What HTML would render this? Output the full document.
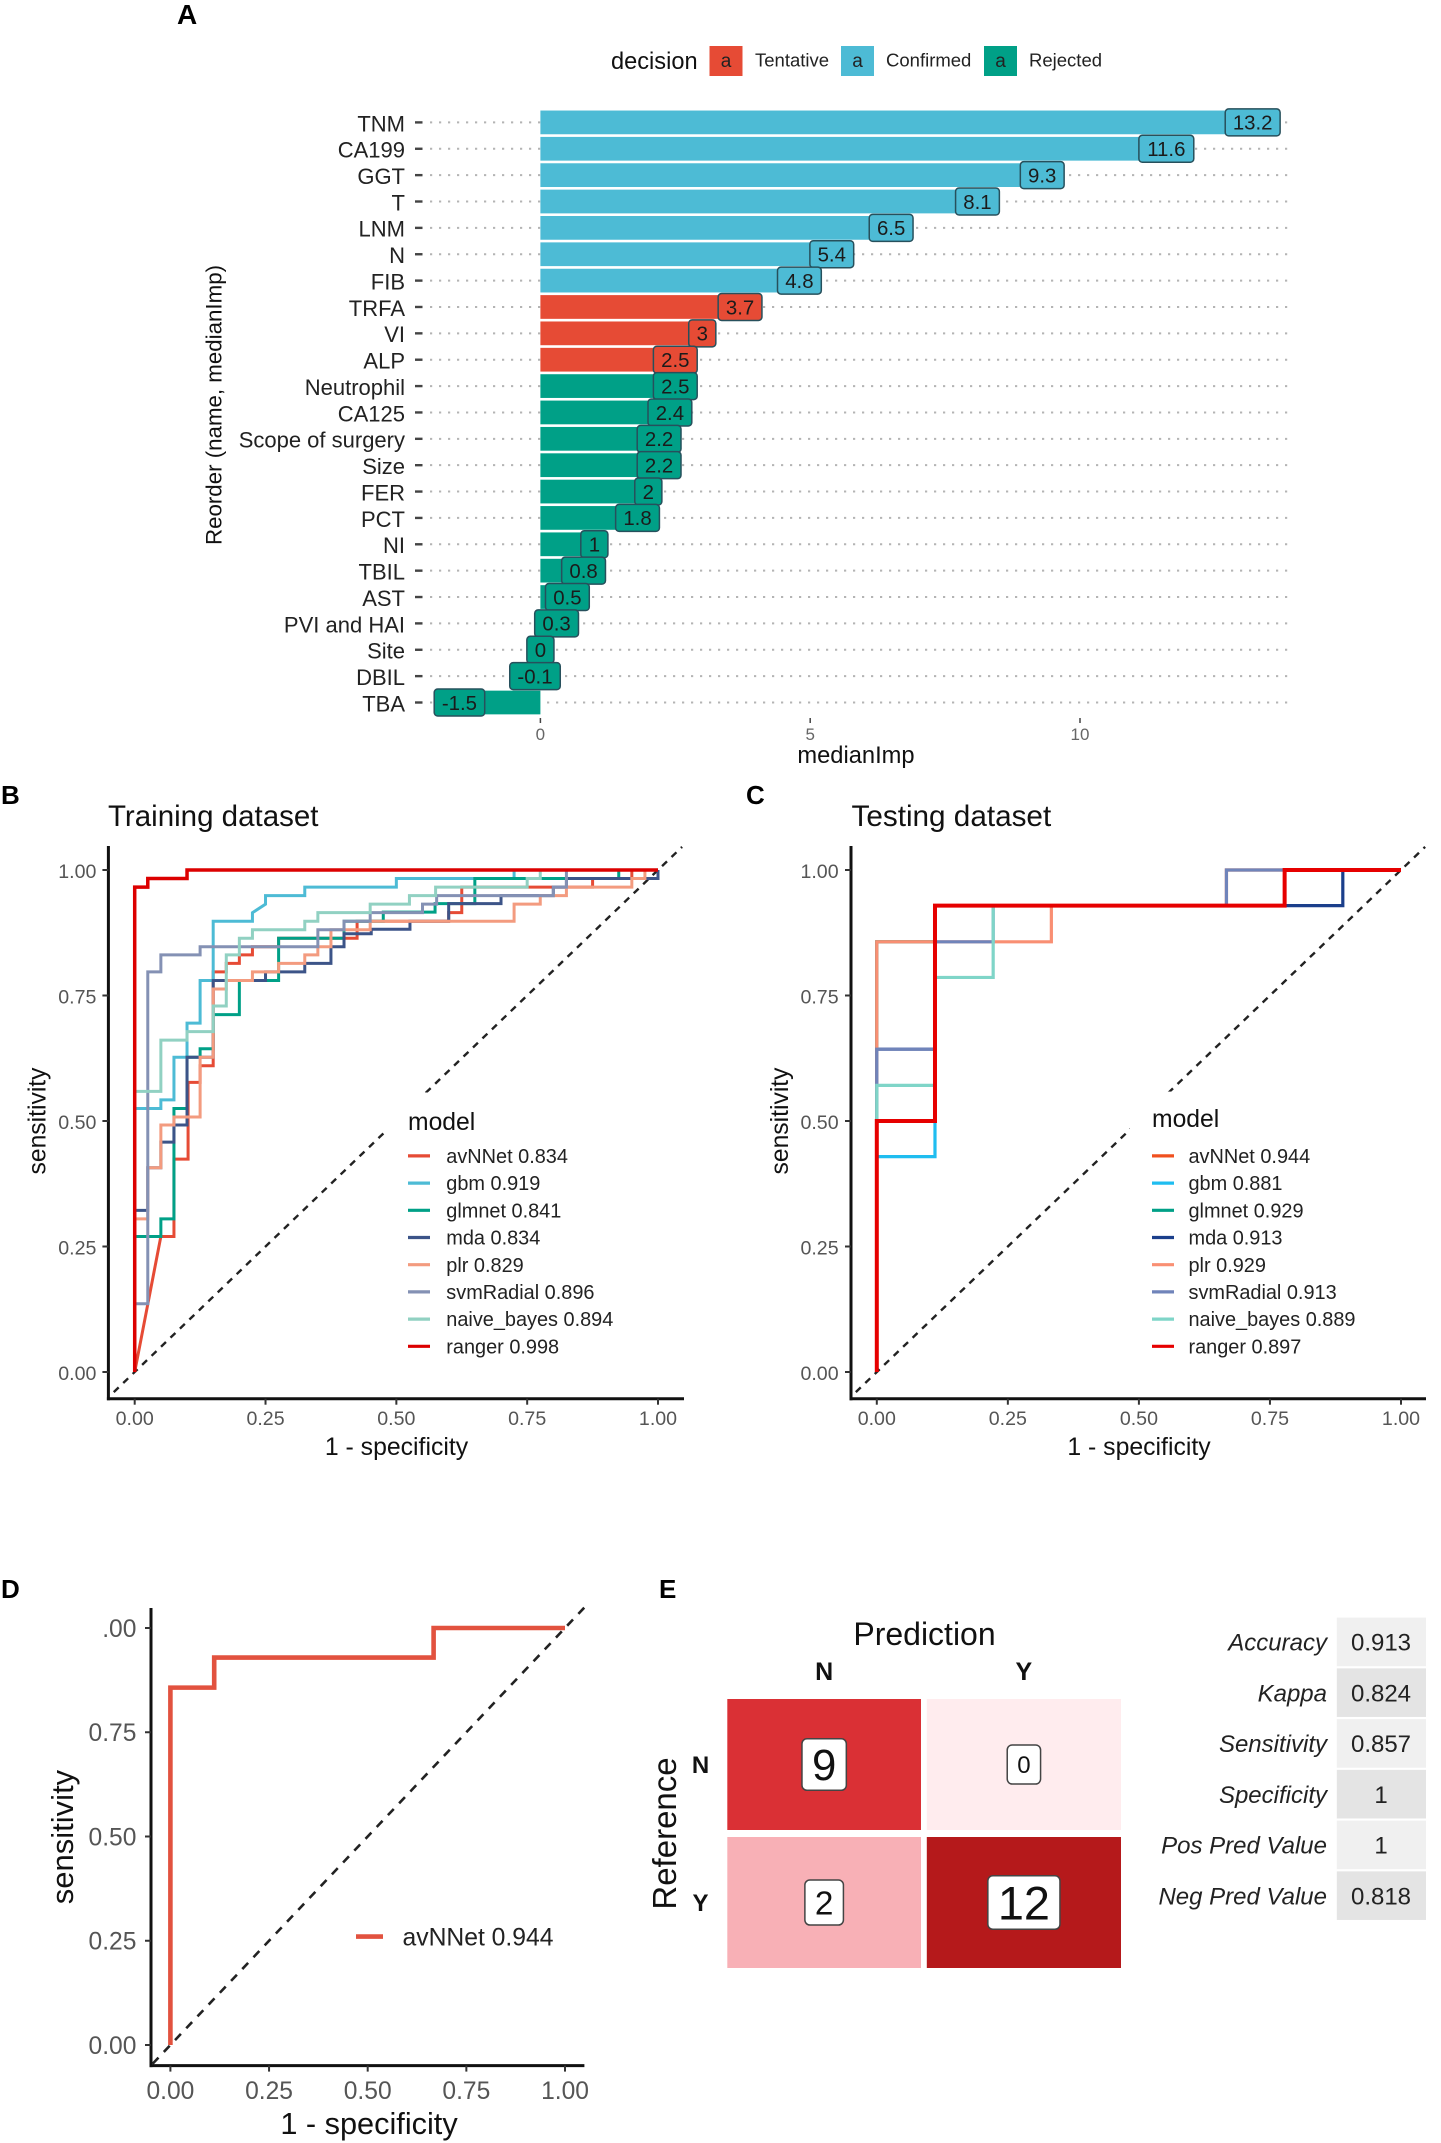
<!DOCTYPE html>
<html lang="en">
<head>
<meta charset="utf-8">
<title>Feature importance and ROC panels</title>
<style>
  html, body { margin: 0; padding: 0; background: #fff; }
  svg { display: block; font-family: "Liberation Sans", sans-serif; }
  .panel-letter { font-size: 26px; font-weight: bold; fill: #000; }
</style>
</head>
<body>
<svg id="figure" xmlns="http://www.w3.org/2000/svg" width="1441" height="2143" viewBox="0 0 1441 2143">
  <rect x="0" y="0" width="1441" height="2143" fill="#fff"/>

  <text class="panel-letter" x="177" y="24" style="font-size:28px">A</text>
  <text class="panel-letter" x="1" y="804">B</text>
  <text class="panel-letter" x="746" y="804">C</text>
  <text class="panel-letter" x="1" y="1598">D</text>
  <text class="panel-letter" x="659" y="1598">E</text>

  <g id="panel-a">
    <text x="611" y="69" font-size="23.6" fill="#111">decision</text>
    <text transform="translate(221.5,405) rotate(-90)" text-anchor="middle" font-size="22.3" fill="#111">Reorder (name, medianImp)</text>
    <text x="856" y="763" text-anchor="middle" font-size="23.7" fill="#111">medianImp</text>
  </g>

  <g id="panel-b">
    <text x="108" y="826" font-size="29.5" fill="#111">Training dataset</text>
    <text transform="translate(45.7,1121) rotate(-90)" text-anchor="middle" font-size="24.7" fill="#111">sensitivity</text>
    <text x="396.5" y="1455" text-anchor="middle" font-size="24.8" fill="#111">1 - specificity</text>
  </g>

  <g id="panel-c">
    <text x="851.5" y="826" font-size="29.7" fill="#111">Testing dataset</text>
    <text transform="translate(788.2,1121) rotate(-90)" text-anchor="middle" font-size="24.7" fill="#111">sensitivity</text>
    <text x="1139" y="1455" text-anchor="middle" font-size="24.8" fill="#111">1 - specificity</text>
  </g>

  <g id="panel-d">
    <text transform="translate(73,1837) rotate(-90)" text-anchor="middle" font-size="31" fill="#111">sensitivity</text>
    <text x="369" y="2134" text-anchor="middle" font-size="30.7" fill="#111">1 - specificity</text>
  </g>

  <g id="panel-e">
    <text x="924.5" y="1645" text-anchor="middle" font-size="32" fill="#111">Prediction</text>
    <text transform="translate(676,1833.5) rotate(-90)" text-anchor="middle" font-size="33" fill="#111">Reference</text>
  </g>
</svg>

<script>
/* ---------- Panel A data ---------- */
const importanceNames = ["TNM","CA199","GGT","T","LNM","N","FIB","TRFA","VI","ALP","Neutrophil","CA125","Scope of surgery","Size","FER","PCT","NI","TBIL","AST","PVI and HAI","Site","DBIL","TBA"];
const importanceValues = [13.2,11.6,9.3,8.1,6.5,5.4,4.8,3.7,3,2.5,2.5,2.4,2.2,2.2,2,1.8,1,0.8,0.5,0.3,0,-0.1,-1.5];
const importanceDecisions = ["Confirmed","Confirmed","Confirmed","Confirmed","Confirmed","Confirmed","Confirmed","Tentative","Tentative","Tentative","Rejected","Rejected","Rejected","Rejected","Rejected","Rejected","Rejected","Rejected","Rejected","Rejected","Rejected","Rejected","Rejected"];
const importanceTicks = [0,5,10];
const decisionLevels = ["Tentative","Confirmed","Rejected"];

/* ---------- ROC shared ---------- */
const rocTicks = [0,0.25,0.5,0.75,1];
const rocTickLabels = ["0.00","0.25","0.50","0.75","1.00"];
const rocTickLabelsD = ["0.00","0.25","0.50","0.75",".00"];
const modelNames = ["avNNet","gbm","glmnet","mda","plr","svmRadial","naive_bayes","ranger"];
const trainAuc = ["0.834","0.919","0.841","0.834","0.829","0.896","0.894","0.998"];
const testAuc = ["0.944","0.881","0.929","0.913","0.929","0.913","0.889","0.897"];

/* ---------- Panel B data: training curves ---------- */
const trainFprAvNNet = [0,0.05,0.075,0.075,0.102,0.102,0.125,0.125,0.15,0.15,0.175,0.175,0.2,0.2,0.225,0.225,0.275,0.275,0.425,0.425,0.6,0.6,0.625,0.625,0.875,0.875,0.95,0.95,1];
const trainTprAvNNet = [0,0.27,0.27,0.424,0.424,0.577,0.577,0.61,0.61,0.797,0.797,0.814,0.814,0.831,0.831,0.847,0.847,0.864,0.864,0.898,0.898,0.915,0.915,0.966,0.966,0.983,0.983,1,1];
const trainFprGbm = [0,0,0.05,0.05,0.075,0.075,0.1,0.1,0.125,0.125,0.15,0.15,0.225,0.225,0.25,0.25,0.325,0.325,0.5,0.5,0.725,0.725,1];
const trainTprGbm = [0,0.525,0.525,0.542,0.542,0.627,0.627,0.695,0.695,0.78,0.78,0.898,0.898,0.915,0.932,0.949,0.949,0.966,0.966,0.983,0.983,1,1];
const trainFprGlmnet = [0,0,0.05,0.05,0.075,0.075,0.1,0.1,0.125,0.125,0.15,0.15,0.2,0.2,0.275,0.275,0.4,0.4,0.475,0.475,0.574,0.574,0.65,0.65,0.925,0.925,1];
const trainTprGlmnet = [0,0.27,0.27,0.305,0.305,0.525,0.525,0.627,0.627,0.644,0.644,0.712,0.712,0.78,0.78,0.864,0.864,0.898,0.898,0.916,0.916,0.933,0.933,0.983,0.983,1,1];
const trainFprMda = [0,0,0.025,0.025,0.05,0.05,0.075,0.075,0.1,0.1,0.15,0.15,0.25,0.25,0.325,0.325,0.375,0.375,0.4,0.4,0.452,0.452,0.526,0.526,0.6,0.6,0.7,0.7,0.8,0.8,0.825,0.825,1,1];
const trainTprMda = [0,0.322,0.322,0.407,0.407,0.458,0.458,0.492,0.492,0.627,0.627,0.78,0.78,0.797,0.797,0.814,0.814,0.847,0.847,0.873,0.873,0.882,0.882,0.898,0.898,0.933,0.933,0.949,0.949,0.966,0.966,0.983,0.983,1];
const trainFprPlr = [0,0,0.025,0.025,0.05,0.05,0.075,0.075,0.125,0.125,0.15,0.15,0.175,0.175,0.225,0.225,0.275,0.275,0.325,0.325,0.35,0.35,0.375,0.375,0.45,0.45,0.725,0.725,0.775,0.775,0.825,0.825,0.95,0.95,0.975,0.975,1];
const trainTprPlr = [0,0.305,0.305,0.407,0.407,0.492,0.492,0.508,0.508,0.627,0.627,0.763,0.763,0.78,0.78,0.797,0.797,0.814,0.814,0.831,0.831,0.847,0.847,0.881,0.881,0.898,0.898,0.932,0.932,0.949,0.949,0.966,0.966,0.983,0.983,1,1];
const trainFprSvm = [0,0,0.025,0.025,0.05,0.05,0.125,0.125,0.35,0.35,0.4,0.4,0.45,0.45,0.55,0.55,0.577,0.577,0.8,0.8,0.825,0.825,1];
const trainTprSvm = [0,0.136,0.136,0.797,0.797,0.831,0.831,0.847,0.847,0.881,0.881,0.898,0.898,0.915,0.915,0.932,0.932,0.949,0.949,0.966,0.966,1,1];
const trainFprNb = [0,0,0.05,0.05,0.1,0.1,0.15,0.15,0.175,0.175,0.2,0.2,0.225,0.225,0.325,0.325,0.35,0.35,0.45,0.45,0.525,0.525,0.575,0.575,0.75,0.75,0.775,0.775,1];
const trainTprNb = [0,0.559,0.559,0.661,0.661,0.678,0.678,0.729,0.729,0.831,0.831,0.864,0.864,0.881,0.881,0.898,0.898,0.915,0.915,0.932,0.932,0.949,0.949,0.966,0.966,0.983,0.983,1,1];
const trainFprRanger = [0,0,0.025,0.025,0.1,0.1,1];
const trainTprRanger = [0,0.966,0.966,0.983,0.983,1,1];

/* ---------- Panel C data: testing curves ---------- */
const testFprAvNNet = [0,0,0.111,0.111,0.667,0.667,1];
const testTprAvNNet = [0,0.857,0.857,0.929,0.929,1,1];
const testFprGbm = [0,0,0.111,0.111,0.778,0.778,1];
const testTprGbm = [0,0.429,0.429,0.929,0.929,1,1];
const testFprGlmnet = [0,0,0.111,0.111,0.778,0.778,1];
const testTprGlmnet = [0,0.857,0.857,0.929,0.929,1,1];
const testFprMda = [0,0,0.111,0.111,0.889,0.889,1];
const testTprMda = [0,0.643,0.643,0.929,0.929,1,1];
const testFprPlr = [0,0,0.333,0.333,0.778,0.778,1];
const testTprPlr = [0,0.857,0.857,0.929,0.929,1,1];
const testFprSvm = [0,0,0.111,0.111,0.222,0.222,0.667,0.667,1];
const testTprSvm = [0,0.643,0.643,0.857,0.857,0.929,0.929,1,1];
const testFprNb = [0,0,0.111,0.111,0.222,0.222,0.778,0.778,1];
const testTprNb = [0,0.571,0.571,0.786,0.786,0.929,0.929,1,1];
const testFprRanger = [0,0,0.111,0.111,0.778,0.778,1];
const testTprRanger = [0,0.5,0.5,0.929,0.929,1,1];

/* ---------- Panel D data ---------- */
const bestFpr = [0,0,0.111,0.111,0.667,0.667,1];
const bestTpr = [0,0.857,0.857,0.929,0.929,1,1];
const bestModelLabel = "avNNet 0.944";

/* ---------- Panel E data ---------- */
const confusionClasses = ["N","Y"];
const confusionRowN = [9,0];
const confusionRowY = [2,12];
const metricNames = ["Accuracy","Kappa","Sensitivity","Specificity","Pos Pred Value","Neg Pred Value"];
const metricValues = ["0.913","0.824","0.857","1","1","0.818"];

/* ---------- helpers ---------- */
const SVGNS = "http://www.w3.org/2000/svg";
function make(tag, attrs, parent) {
  const node = document.createElementNS(SVGNS, tag);
  for (const k in attrs) node.setAttribute(k, attrs[k]);
  parent.appendChild(node);
  return node;
}
function scale(d0, d1, r0, r1) {
  return function (v) { return r0 + (v - d0) * (r1 - r0) / (d1 - d0); };
}
function centeredText(x, yc, str, size, fill, anchor, parent, style) {
  const t = make("text", { x: x, y: yc + 0.358 * size, "font-size": size, fill: fill, "text-anchor": anchor }, parent);
  if (style) t.setAttribute("font-style", style);
  t.textContent = str;
  return t;
}
const palette = { Tentative: "#E64B35", Confirmed: "#4DBBD5", Rejected: "#00A087" };

/* ---------- Panel A ---------- */
(function () {
  const g = document.getElementById("panel-a");
  const x = scale(0, 10, 540.4, 1080);
  const y = scale(0, importanceNames.length - 1, 122.4, 702.5);
  const rowH = y(1) - y(0);

  const swatchLefts = [709.5, 841, 984];
  const labelLefts = [755, 886, 1029];
  decisionLevels.forEach(function (lvl, i) {
    const sw = make("rect", { x: swatchLefts[i], y: 46, width: 33, height: 30, fill: palette[lvl] }, g);
    
    
    const a = centeredText(swatchLefts[i] + 16.5, 60, "a", 19, "#222", "middle", g);
    
    
    const lab = centeredText(labelLefts[i], 60, lvl, 18.5, "#222", "start", g);
    
    
  });

  importanceNames.forEach(function (name, i) {
    const grid = make("line", { x1: 430, x2: 1292, y1: y(i), y2: y(i), stroke: "#b4b4b4", "stroke-width": 2, "stroke-dasharray": "2.2 6.8" }, g);
    
    
    const tick = make("line", { x1: 415, x2: 422.5, y1: y(i), y2: y(i), stroke: "#444", "stroke-width": 2.4 }, g);
    
    
    const lab = centeredText(405, y(i) + 1, name, 22, "#222", "end", g);
    
    
  });

  importanceValues.forEach(function (v, i) {
    const x0 = x(Math.min(0, v));
    const x1 = x(Math.max(0, v));
    const bar = make("rect", { x: x0, y: y(i) - rowH * 0.45, width: x1 - x0, height: rowH * 0.9, fill: palette[importanceDecisions[i]] }, g);
    
    
  });

  importanceValues.forEach(function (v, i) {
    const str = String(v);
    const w = str.replace(/[.]/g, "").length * 11.1 + (str.indexOf(".") >= 0 ? 5.6 : 0) + (str[0] === "-" ? -4.4 : 0) + 16;
    const box = make("rect", { x: x(v) - w / 2, y: y(i) - 13.5, width: w, height: 27, rx: 3.5, fill: palette[importanceDecisions[i]], stroke: "#27505c", "stroke-width": 1.5 }, g);
    
    
    const t = centeredText(x(v), y(i), str, 20.4, "#1b1b1b", "middle", g);
    
    
  });

  importanceTicks.forEach(function (v) {
    const tick = make("line", { x1: x(v), x2: x(v), y1: 718, y2: 723, stroke: "#444", "stroke-width": 1.5 }, g);
    
    
    const lab = centeredText(x(v), 734, String(v), 17, "#666", "middle", g);
    
    
  });
})();

/* ---------- ROC axes ---------- */
function drawRocFrame(g, f) {
  const diag = make("line", { x1: f.x(f.dLo), y1: f.y(f.dLo), x2: f.x(f.dHi), y2: f.y(f.dHi), stroke: "#222", "stroke-width": f.dashW, "stroke-dasharray": f.dash }, g);
  
  

  const yAxis = make("line", { x1: f.left, x2: f.left, y1: f.top, y2: f.bottom + 1.5, stroke: "#111", "stroke-width": 3 }, g);
  
  
  const xAxis = make("line", { x1: f.left - 1.5, x2: f.right, y1: f.bottom, y2: f.bottom, stroke: "#111", "stroke-width": 3 }, g);
  
  

  rocTicks.forEach(function (v, i) {
    const xt = make("line", { x1: f.x(v), x2: f.x(v), y1: f.bottom, y2: f.bottom + 6, stroke: "#333", "stroke-width": 2 }, g);
    
    
    const yt = make("line", { x1: f.left - 6, x2: f.left, y1: f.y(v), y2: f.y(v), stroke: "#333", "stroke-width": 2 }, g);
    
    
    const xl = centeredText(f.x(v), f.xLabelY, rocTickLabels[i], f.tickSize, "#555", "middle", g);
    
    
    const yl = centeredText(f.yLabelX, f.y(v) + f.yLabelDy, f.yLabels[i], f.tickSize, "#555", "end", g);
    
    
  });
}
function drawCurve(g, f, fpr, tpr, color, width, name) {
  const pts = fpr.map(function (v, i) { return f.x(v).toFixed(2) + "," + f.y(tpr[i]).toFixed(2); }).join(" ");
  const line = make("polyline", { points: pts, fill: "none", stroke: color, "stroke-width": width, "stroke-linejoin": "miter" }, g);
  
  
}
function drawLegend(g, cfg, aucs, colors) {
  const bg = make("rect", { x: cfg.boxX, y: cfg.boxY, width: cfg.boxW, height: 296, fill: "#fff" }, g);
  
  
  const title = make("text", { x: cfg.keyX, y: cfg.titleY, "font-size": 24.7, fill: "#111" }, g);
  
  
  title.textContent = "model";
  modelNames.forEach(function (m, i) {
    const yy = 1155.9 + i * 27.2;
    const key = make("line", { x1: cfg.keyX, x2: cfg.keyX + 22, y1: yy, y2: yy, stroke: colors[i], "stroke-width": 3.2 }, g);
    
    
    const lab = centeredText(cfg.textX, yy, m + " " + aucs[i], 19.9, "#222", "start", g);
    
    
  });
}

/* ---------- Panel B ---------- */
(function () {
  const g = document.getElementById("panel-b");
  const f = { x: scale(0, 1, 134.7, 658), y: scale(0, 1, 1372, 870), left: 108.4, right: 684, top: 846, bottom: 1398.7,
              dLo: -0.04, dHi: 1.046, dash: "6.8 6.3", dashW: 2.4, xLabelY: 1418, yLabelX: 96.4, yLabelDy: 1, tickSize: 19.6, yLabels: rocTickLabels };
  drawRocFrame(g, f);
  const colors = ["#E64B35","#4DBBD5","#00A087","#3C5488","#F39B7F","#8491B4","#91D1C2","#DC0000"];
  drawCurve(g, f, trainFprAvNNet, trainTprAvNNet, colors[0], 3, "avnnet");
  drawCurve(g, f, trainFprGbm, trainTprGbm, colors[1], 3, "gbm");
  drawCurve(g, f, trainFprGlmnet, trainTprGlmnet, colors[2], 3, "glmnet");
  drawCurve(g, f, trainFprMda, trainTprMda, colors[3], 3, "mda");
  drawCurve(g, f, trainFprPlr, trainTprPlr, colors[4], 3, "plr");
  drawCurve(g, f, trainFprSvm, trainTprSvm, colors[5], 3, "svmradial");
  drawCurve(g, f, trainFprNb, trainTprNb, colors[6], 3, "naive-bayes");
  drawCurve(g, f, trainFprRanger, trainTprRanger, colors[7], 3.5, "ranger");
  drawLegend(g, { boxX: 385.7, boxY: 1092.5, boxW: 240, titleY: 1129.8, keyX: 408, textX: 446.3 }, trainAuc, colors);
})();

/* ---------- Panel C ---------- */
(function () {
  const g = document.getElementById("panel-c");
  const f = { x: scale(0, 1, 876.8, 1401), y: scale(0, 1, 1372, 870), left: 851, right: 1426, top: 846, bottom: 1398.7,
              dLo: -0.04, dHi: 1.046, dash: "6.8 6.3", dashW: 2.4, xLabelY: 1418, yLabelX: 838.6, yLabelDy: 1, tickSize: 19.6, yLabels: rocTickLabels };
  drawRocFrame(g, f);
  const colors = ["#F0501F","#1FBDF0","#00A087","#1B3F8B","#F98F73","#7084BA","#7FD5C8","#E60000"];
  drawCurve(g, f, testFprAvNNet, testTprAvNNet, colors[0], 3.2, "avnnet");
  drawCurve(g, f, testFprGbm, testTprGbm, colors[1], 3.2, "gbm");
  drawCurve(g, f, testFprGlmnet, testTprGlmnet, colors[2], 3.2, "glmnet");
  drawCurve(g, f, testFprMda, testTprMda, colors[3], 3.2, "mda");
  drawCurve(g, f, testFprPlr, testTprPlr, colors[4], 3.2, "plr");
  drawCurve(g, f, testFprSvm, testTprSvm, colors[5], 3.2, "svmradial");
  drawCurve(g, f, testFprNb, testTprNb, colors[6], 3.2, "naive-bayes");
  drawCurve(g, f, testFprRanger, testTprRanger, colors[7], 4, "ranger");
  drawLegend(g, { boxX: 1130, boxY: 1091.6, boxW: 240, titleY: 1127, keyX: 1152, textX: 1188.5 }, testAuc, colors);
})();

/* ---------- Panel D ---------- */
(function () {
  const g = document.getElementById("panel-d");
  const f = { x: scale(0, 1, 170.4, 565), y: scale(0, 1, 2045, 1628), left: 151, right: 584.4, top: 1608, bottom: 2065.6,
              dLo: -0.045, dHi: 1.05, dash: "8.5 7.8", dashW: 2.6, xLabelY: 2090, yLabelX: 136.4, yLabelDy: 0, tickSize: 24.6, yLabels: rocTickLabelsD };
  drawRocFrame(g, f);
  drawCurve(g, f, bestFpr, bestTpr, "#E2523F", 4.6, "avnnet");
  const key = make("line", { x1: 356, x2: 383, y1: 1936.6, y2: 1936.6, stroke: "#E2523F", "stroke-width": 4.6 }, g);
  
  
  const lab = centeredText(402.5, 1936.6, bestModelLabel, 24.7, "#222", "start", g);
  
  
})();

/* ---------- Panel E ---------- */
(function () {
  const g = document.getElementById("panel-e");
  const colRight = { 0: 921, 1: 1121 };
  const colLeft = { 0: 727.3, 1: 926.8 };
  const rowTop = { 0: 1699, 1: 1837 };
  const cellH = 131;
  const ramp = [[0,[255,236,238]],[2,[248,176,182]],[9,[218,48,53]],[12,[181,25,27]]];
  function cellColor(v) {
    for (let i = 1; i < ramp.length; i++) {
      if (v <= ramp[i][0]) {
        const t = (v - ramp[i-1][0]) / (ramp[i][0] - ramp[i-1][0]);
        const c = ramp[i-1][1].map(function (a, k) { return Math.round(a + (ramp[i][1][k] - a) * t); });
        return "rgb(" + c.join(",") + ")";
      }
    }
    return "rgb(181,25,27)";
  }
  [confusionRowN, confusionRowY].forEach(function (row, r) {
    const rl = make("text", { x: 700.5, y: rowTop[r] + cellH / 2 + 8.5, "font-size": 24, "font-weight": "bold", fill: "#111", "text-anchor": "middle" }, g);
    
    
    rl.textContent = confusionClasses[r];
    row.forEach(function (v, c) {
      const cell = make("rect", { x: colLeft[c], y: rowTop[r], width: colRight[c] - colLeft[c], height: cellH, fill: cellColor(v) }, g);
      
      
      const cx = (colLeft[c] + colRight[c]) / 2;
      const cy = rowTop[r] + cellH / 2;
      const fs = 24 + 6.6 * Math.sqrt(v);
      const w = String(v).length * 0.556 * fs + 20;
      const h = 24 + 0.63 * fs;
      const box = make("rect", { x: cx - w / 2, y: cy - h / 2, width: w, height: h, rx: 5, fill: "#fff", stroke: "#444", "stroke-width": 1.5 }, g);
      
      
      const t = centeredText(cx, cy, String(v), fs, "#111", "middle", g);
      
      
    });
  });
  confusionClasses.forEach(function (cl, c) {
    const t = make("text", { x: (colLeft[c] + colRight[c]) / 2, y: 1680, "font-size": 25, "font-weight": "bold", fill: "#111", "text-anchor": "middle" }, g);
    
    
    t.textContent = cl;
  });
  const rowStep = 50.75;
  metricNames.forEach(function (m, i) {
    const yTop = 1617.6 + i * rowStep;
    const bg = make("rect", { x: 1336.8, y: yTop, width: 89.2, height: 48.6, fill: i % 2 ? "#E4E4E4" : "#F0F0F0" }, g);
    
    
    const lab = centeredText(1327, yTop + 24.5, m, 24, "#222", "end", g, "italic");
    
    
    const val = centeredText(1381, yTop + 24.5, metricValues[i], 24, "#222", "middle", g);
    
    
  });
})();
</script>
</body>
</html>
